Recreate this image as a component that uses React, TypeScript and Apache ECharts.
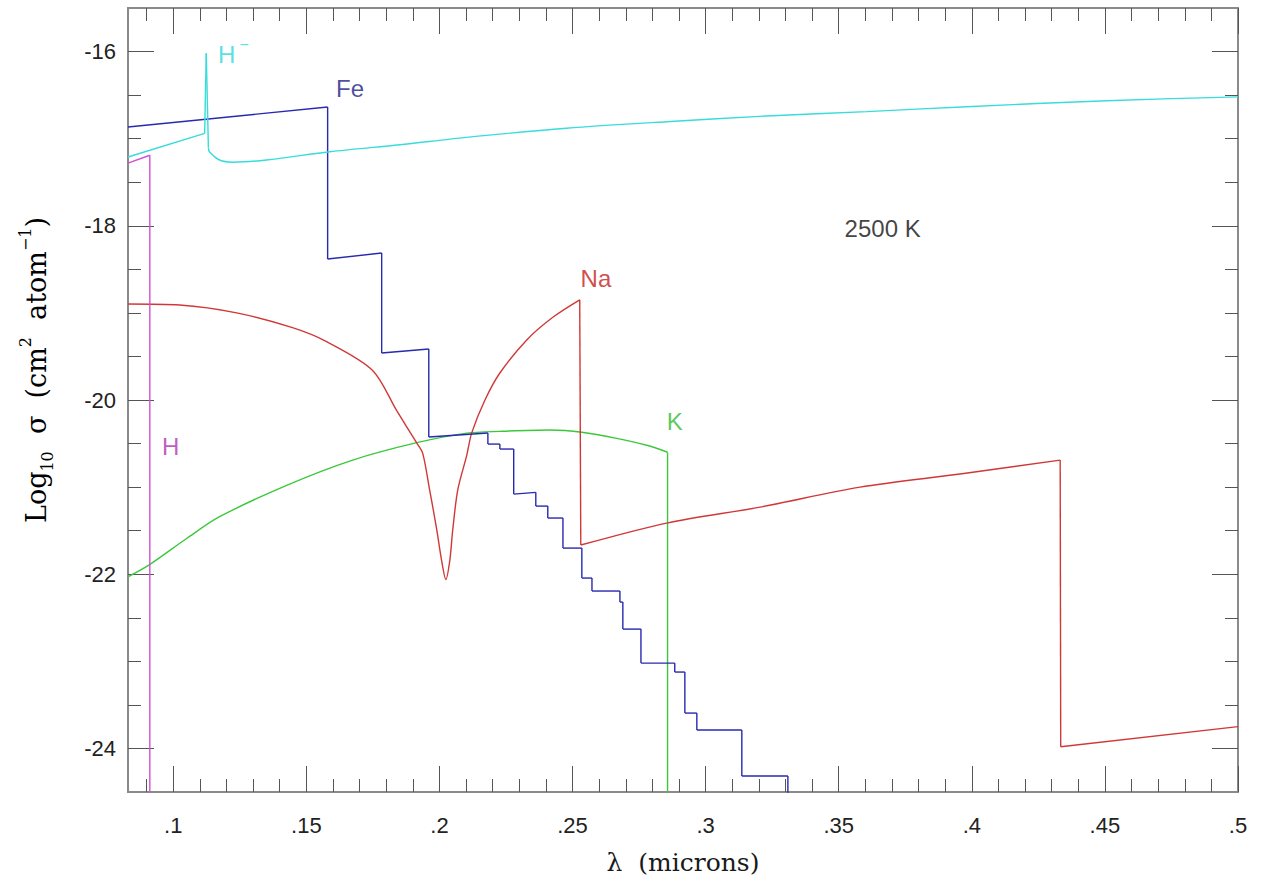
import React, { useEffect, useRef } from 'react';
import * as echarts from 'echarts';

// Axis ranges (wavelength in microns, log10 cross-section)
const X_MIN = 0.083;
const X_MAX = 0.5;
const Y_MIN = -24.5;
const Y_MAX = -15.5;

// Tick values
const xMajorTicks = [0.1, 0.15, 0.2, 0.25, 0.3, 0.35, 0.4, 0.45, 0.5];
const xMinorTicks = [
  0.09, 0.11, 0.12, 0.13, 0.14, 0.16, 0.17, 0.18, 0.19, 0.21, 0.22, 0.23, 0.24,
  0.26, 0.27, 0.28, 0.29, 0.31, 0.32, 0.33, 0.34, 0.36, 0.37, 0.38, 0.39,
  0.41, 0.42, 0.43, 0.44, 0.46, 0.47, 0.48, 0.49,
];
const yMajorTicks = [-24, -22, -20, -18, -16];
const yMinorTicks = [
  -23.5, -23, -22.5, -21.5, -21, -20.5, -19.5, -19, -18.5, -17.5, -17, -16.5,
];

// H- (cyan)
const hMinusWave = [0.083, 0.1118, 0.1124, 0.1132, 0.1136, 0.1174, 0.1224, 0.135, 0.1588, 0.1851, 0.2102, 0.2477, 0.2853, 0.3229, 0.3605, 0.3981, 0.4507, 0.5];
const hMinusLogSigma = [-17.21, -16.94, -16.02, -17.1, -17.15, -17.245, -17.27, -17.245, -17.15, -17.07, -16.985, -16.88, -16.805, -16.74, -16.69, -16.633, -16.564, -16.52];

// Fe (blue, stepped)
const feWave = [0.083, 0.158, 0.158, 0.1783, 0.1783, 0.196, 0.196, 0.2182, 0.2182, 0.2227, 0.2227, 0.2279, 0.2279, 0.2362, 0.2362, 0.2407, 0.2407, 0.2464, 0.2464, 0.2535, 0.2535, 0.2573, 0.2573, 0.2678, 0.2678, 0.2689, 0.2689, 0.2757, 0.2757, 0.2884, 0.2884, 0.2922, 0.2922, 0.2967, 0.2967, 0.3136, 0.3136, 0.3309, 0.3309];
const feLogSigma = [-16.866, -16.637, -18.382, -18.313, -19.461, -19.415, -20.425, -20.379, -20.506, -20.506, -20.563, -20.563, -21.08, -21.06, -21.218, -21.218, -21.355, -21.355, -21.7, -21.7, -22.044, -22.044, -22.193, -22.193, -22.32, -22.32, -22.63, -22.63, -23.02, -23.02, -23.123, -23.123, -23.594, -23.594, -23.789, -23.789, -24.317, -24.317, -25];

// Na (red)
const naWave = [0.083, 0.1024, 0.1238, 0.1448, 0.1576, 0.1749, 0.1839, 0.1914, 0.1937, 0.1963, 0.199, 0.2008, 0.2024, 0.2039, 0.205, 0.2069, 0.2103, 0.2121, 0.2171, 0.2227, 0.2328, 0.2426, 0.2527, 0.2531, 0.2858, 0.3204, 0.358, 0.3956, 0.4332, 0.4334, 0.5];
const naLogSigma = [-18.898, -18.91, -19.0, -19.17, -19.33, -19.66, -20.12, -20.49, -20.61, -21.03, -21.49, -21.84, -22.06, -21.84, -21.49, -21.03, -20.63, -20.38, -20.0, -19.69, -19.31, -19.05, -18.85, -21.665, -21.41, -21.23, -21.0, -20.85, -20.69, -23.98, -23.75];

// K (green)
const kWave = [0.083, 0.0911, 0.105, 0.1174, 0.1426, 0.1674, 0.1915, 0.2103, 0.2227, 0.2415, 0.2535, 0.2666, 0.2779, 0.2857, 0.2857];
const kLogSigma = [-22.03, -21.89, -21.59, -21.34, -20.98, -20.69, -20.49, -20.38, -20.36, -20.345, -20.37, -20.44, -20.52, -20.6, -25];

// H (magenta)
const hWave = [0.083, 0.0912, 0.0912];
const hLogSigma = [-17.28, -17.19, -25];

// In-plot labels
const labelTexts = ['{b|H}{s|\u2212}', 'Fe', 'Na', 'K', 'H', '2500 K'];
const labelWave = [0.1226, 0.1664, 0.2588, 0.2884, 0.099, 0.3665];
const labelLogSigma = [-16.0, -16.42, -18.6, -20.25, -20.53, -18.03];
const labelColors = ['#2ed8d8', '#1e1e86', '#c42020', '#33bb33', '#b030b0', '#111111'];

const COLORS = {
  hminus: '#38dcdc',
  fe: '#2828b0',
  na: '#d03838',
  k: '#3cc83c',
  h: '#d050d0',
};

const FRAME = '#8a8a8a';
const TICK = '#555555';
const SANS = '"Liberation Sans", Arial, Helvetica, sans-serif';
const SERIF = '"DejaVu Serif", "Liberation Serif", serif';

// approximate pixel scale, only used to decide which segments are near-vertical
const PX_PER_X = 2660;
const PX_PER_Y = 87.1;

function splitSegments(xs: number[], ys: number[]) {
  const segs: { pts: number[][]; curved: boolean }[] = [];
  let cur: number[][] = [[xs[0], ys[0]]];
  for (let i = 1; i < xs.length; i++) {
    const dx = Math.abs(xs[i] - xs[i - 1]) * PX_PER_X;
    const dy = Math.abs(ys[i] - ys[i - 1]) * PX_PER_Y;
    const steep = dy > 12 * Math.max(dx, 0.01);
    if (steep) {
      if (cur.length > 1) segs.push({ pts: cur, curved: true });
      segs.push({ pts: [[xs[i - 1], ys[i - 1]], [xs[i], ys[i]]], curved: false });
      cur = [[xs[i], ys[i]]];
    } else {
      cur.push([xs[i], ys[i]]);
    }
  }
  if (cur.length > 1) segs.push({ pts: cur, curved: true });
  return segs;
}

function xAxisDef(position: 'top' | 'bottom', ticks: number[], len: number, withLabels: boolean) {
  return {
    type: 'value',
    position,
    min: X_MIN,
    max: X_MAX,
    splitLine: { show: false },
    axisLine: { show: true, onZero: false, lineStyle: { color: FRAME, width: 2 } },
    axisTick: { show: true, inside: true, length: len, customValues: ticks, lineStyle: { color: TICK, width: 1 } },
    axisLabel: withLabels
      ? {
          show: true,
          customValues: xMajorTicks,
          margin: 22,
          fontFamily: SANS,
          fontSize: 22,
          color: '#222',
          formatter: (v: number) => String(v).replace(/^0/, ''),
        }
      : { show: false },
    ...(withLabels
      ? {
          name: '\u03bb  (microns)',
          nameLocation: 'middle',
          nameGap: 58,
          nameTextStyle: { fontFamily: SERIF, fontSize: 25, color: '#1a1a1a' },
        }
      : {}),
  };
}

function yAxisDef(position: 'left' | 'right', ticks: number[], len: number, withLabels: boolean) {
  return {
    type: 'value',
    position,
    min: Y_MIN,
    max: Y_MAX,
    splitLine: { show: false },
    axisLine: { show: true, onZero: false, lineStyle: { color: FRAME, width: 2 } },
    axisTick: { show: true, inside: true, length: len, customValues: ticks, lineStyle: { color: TICK, width: 1 } },
    axisLabel: withLabels
      ? {
          show: true,
          customValues: yMajorTicks,
          margin: 12,
          fontFamily: SANS,
          fontSize: 22,
          color: '#222',
          formatter: (v: number) => String(v),
        }
      : { show: false },
  };
}

function curveSeries(name: string, xs: number[], ys: number[], color: string, allowSmooth: boolean) {
  return splitSegments(xs, ys).map((seg, k) => ({
    name: `${name}-${k}`,
    type: 'line',
    xAxisIndex: 0,
    yAxisIndex: 0,
    data: seg.pts,
    showSymbol: false,
    symbol: 'none',
    clip: true,
    smooth: allowSmooth && seg.curved && seg.pts.length > 2 ? 0.3 : false,
    lineStyle: { color, width: 1.4 },
    emphasis: { disabled: true },
  }));
}

export default function App() {
  const ref = useRef<HTMLDivElement>(null);

  useEffect(() => {
    if (!ref.current) return;
    const chart = echarts.init(ref.current, undefined, { renderer: 'svg' });

    const labelData = labelTexts.map((t, i) => ({
      value: [labelWave[i], labelLogSigma[i]],
      label: {
        show: true,
        position: 'inside',
        formatter: t,
        color: labelColors[i],
        fontFamily: SANS,
        fontSize: 24,
        rich: {
          b: { fontFamily: SANS, fontSize: 24, color: labelColors[i], lineHeight: 30, verticalAlign: 'bottom' },
          s: { fontFamily: SANS, fontSize: 16, color: labelColors[i], lineHeight: 16, verticalAlign: 'top', padding: [0, 0, 0, 4] },
        },
      },
    }));

    chart.setOption({
      animation: false,
      backgroundColor: '#ffffff',
      grid: { left: 128, right: 27, top: 8, bottom: 88, containLabel: false },
      xAxis: [
        xAxisDef('bottom', xMajorTicks, 26, true),
        xAxisDef('bottom', xMinorTicks, 13, false),
        xAxisDef('top', xMajorTicks, 26, false),
        xAxisDef('top', xMinorTicks, 13, false),
      ],
      yAxis: [
        yAxisDef('left', yMajorTicks, 26, true),
        yAxisDef('left', yMinorTicks, 13, false),
        yAxisDef('right', yMajorTicks, 26, false),
        yAxisDef('right', yMinorTicks, 13, false),
      ],
      series: [
        ...curveSeries('K', kWave, kLogSigma, COLORS.k, true),
        ...curveSeries('Na', naWave, naLogSigma, COLORS.na, true),
        ...curveSeries('H', hWave, hLogSigma, COLORS.h, false),
        ...curveSeries('Fe', feWave, feLogSigma, COLORS.fe, false),
        ...curveSeries('H-', hMinusWave, hMinusLogSigma, COLORS.hminus, true),
        {
          name: 'labels',
          type: 'scatter',
          xAxisIndex: 0,
          yAxisIndex: 0,
          symbolSize: 1,
          itemStyle: { color: 'rgba(0,0,0,0)' },
          silent: true,
          data: labelData,
        },
      ],
      graphic: [
        {
          type: 'text',
          x: 36,
          y: 370,
          rotation: Math.PI / 2,
          style: {
            text: '{n|Log}{sub|10}{n|  \u03c3  (cm}{sup|2}{n|  atom}{sup|\u22121}{n|)}',
            align: 'center',
            verticalAlign: 'middle',
            textAlign: 'center',
            textVerticalAlign: 'middle',
            rich: {
              n: { fontFamily: SERIF, fontSize: 27, color: '#1a1a1a', lineHeight: 38, verticalAlign: 'middle' },
              sub: { fontFamily: SERIF, fontSize: 16, color: '#1a1a1a', lineHeight: 16, verticalAlign: 'bottom' },
              sup: { fontFamily: SERIF, fontSize: 16, color: '#1a1a1a', lineHeight: 16, verticalAlign: 'top' },
            },
          },
        },
      ],
    });

    return () => chart.dispose();
  }, []);

  return (
    <div
      ref={ref}
      style={{ position: 'absolute', left: 0, top: 0, width: 1265, height: 880, background: '#fff' }}
    />
  );
}
